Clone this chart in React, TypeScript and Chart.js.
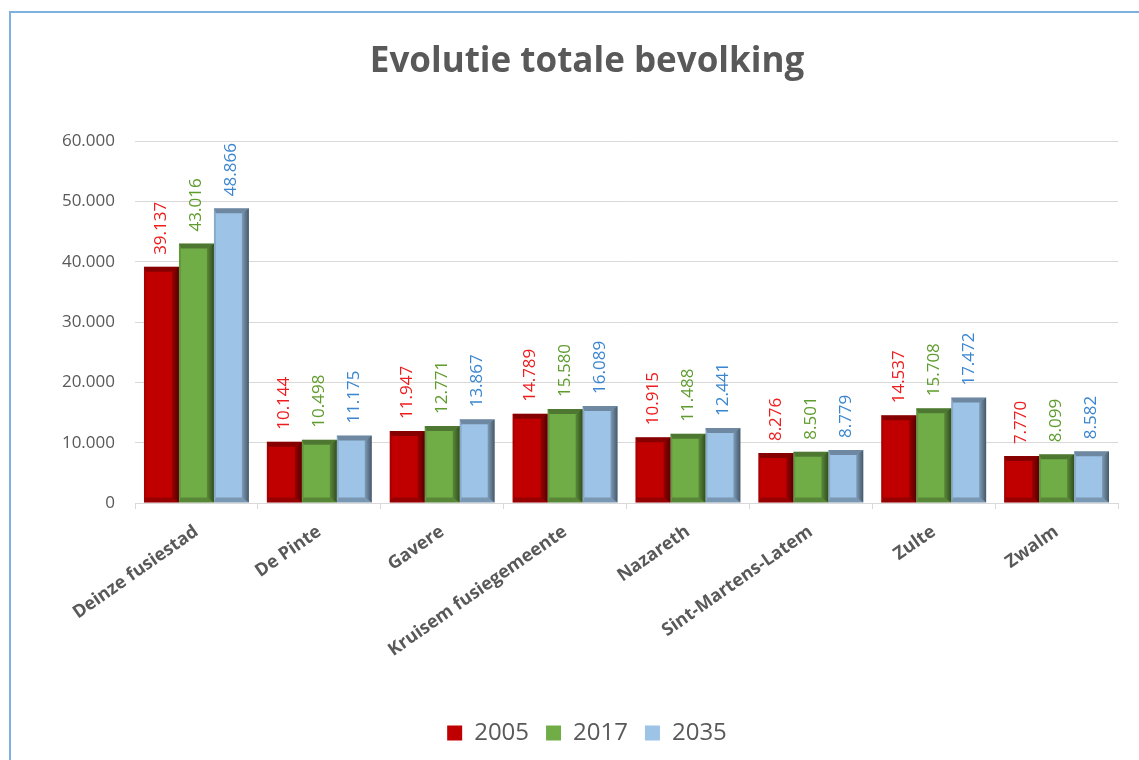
import React, { useEffect, useRef } from "react";
import { Chart, registerables } from "chart.js";

Chart.register(...registerables);

const categories = [
  "Deinze fusiestad",
  "De Pinte",
  "Gavere",
  "Kruisem fusiegemeente",
  "Nazareth",
  "Sint-Martens-Latem",
  "Zulte",
  "Zwalm",
];
const seriesNames = ["2005", "2017", "2035"];
const values2005 = [39137, 10144, 11947, 14789, 10915, 8276, 14537, 7770];
const values2017 = [43016, 10498, 12771, 15580, 11488, 8501, 15708, 8099];
const values2035 = [48866, 11175, 13867, 16089, 12441, 8779, 17472, 8582];
const yTicks = [0, 10000, 20000, 30000, 40000, 50000, 60000];

const barColors = ["#c00000", "#70ad47", "#9dc3e6"];
const labelColors = ["#ee1c1c", "#5f9c2e", "#3a86d0"];
const textGray = "#595959";
const FONT = "'Open Sans', 'DejaVu Sans', sans-serif";

const fmt = (v: number) =>
  String(v).replace(/\B(?=(\d{3})+(?!\d))/g, ".");

const bevelPlugin = {
  id: "bevelLabels",
  afterDatasetsDraw(chart: any) {
    const ctx = chart.ctx;
    chart.data.datasets.forEach((ds: any, di: number) => {
      const meta = chart.getDatasetMeta(di);
      meta.data.forEach((el: any, i: number) => {
        const { x, y, base, width } = el.getProps(["x", "y", "base", "width"], true);
        const L = x - width / 2;
        const R = x + width / 2;
        const T = y;
        const B = base;
        const bt = Math.min(5, (B - T) / 2);
        const br = 7;
        const bl = 2;
        ctx.save();
        // top
        ctx.beginPath();
        ctx.moveTo(L, T);
        ctx.lineTo(R, T);
        ctx.lineTo(R - br, T + bt);
        ctx.lineTo(L + bl, T + bt);
        ctx.closePath();
        ctx.fillStyle = "rgba(0,0,0,0.3)";
        ctx.fill();
        // right
        const g = ctx.createLinearGradient(R - br, 0, R, 0);
        g.addColorStop(0, "rgba(0,0,0,0.2)");
        g.addColorStop(1, "rgba(0,0,0,0.55)");
        ctx.beginPath();
        ctx.moveTo(R, T);
        ctx.lineTo(R, B);
        ctx.lineTo(R - br, B - bt);
        ctx.lineTo(R - br, T + bt);
        ctx.closePath();
        ctx.fillStyle = g;
        ctx.fill();
        // bottom
        ctx.beginPath();
        ctx.moveTo(L, B);
        ctx.lineTo(R, B);
        ctx.lineTo(R - br, B - bt);
        ctx.lineTo(L + bl, B - bt);
        ctx.closePath();
        ctx.fillStyle = "rgba(0,0,0,0.22)";
        ctx.fill();
        // left
        ctx.beginPath();
        ctx.moveTo(L, T);
        ctx.lineTo(L + bl, T + bt);
        ctx.lineTo(L + bl, B - bt);
        ctx.lineTo(L, B);
        ctx.closePath();
        ctx.fillStyle = "rgba(0,0,0,0.12)";
        ctx.fill();
        ctx.restore();

        // value label
        ctx.save();
        ctx.translate(x, T - 12);
        ctx.rotate(-Math.PI / 2);
        ctx.font = `17px ${FONT}`;
        ctx.fillStyle = labelColors[di];
        ctx.textAlign = "left";
        ctx.textBaseline = "middle";
        ctx.fillText(fmt(ds.data[i]), 0, 0);
        ctx.restore();
      });
    });
  },
};

export default function App() {
  const canvasRef = useRef<HTMLCanvasElement | null>(null);

  useEffect(() => {
    if (!canvasRef.current) return;
    const allSeries = [values2005, values2017, values2035];
    const chart = new Chart(canvasRef.current, {
      type: "bar",
      data: {
        labels: categories,
        datasets: seriesNames.map((name, i) => ({
          label: name,
          data: allSeries[i],
          backgroundColor: barColors[i],
          borderWidth: 0,
          barPercentage: 1,
          categoryPercentage: 0.854,
        })),
      },
      options: {
        responsive: false,
        animation: false,
        layout: { padding: { left: 56, right: 21, top: 0, bottom: 5 } },
        plugins: {
          title: {
            display: true,
            text: "Evolutie totale bevolking",
            color: textGray,
            font: { family: FONT, size: 35, weight: "bold" },
            padding: { top: 41, bottom: 58 },
          },
          legend: {
            position: "bottom",
            labels: {
              color: textGray,
              font: { family: FONT, size: 24 },
              boxWidth: 15,
              boxHeight: 15,
              padding: 17,
            },
          },
          tooltip: { enabled: false },
        },
        scales: {
          x: {
            afterFit: (s: any) => {
              s.height = 201;
            },
            grid: {
              offset: true,
              drawOnChartArea: false,
              drawTicks: true,
              tickLength: 6,
              color: "#d9d9d9",
            },
            border: { display: true, color: "#d9d9d9" },
            ticks: {
              color: textGray,
              font: { family: FONT, size: 18, weight: "bold" },
              minRotation: 35,
              maxRotation: 35,
              autoSkip: false,
              padding: 12,
            },
          },
          y: {
            min: 0,
            max: 60000,
            afterFit: (s: any) => {
              s.width = 79;
            },
            afterBuildTicks: (s: any) => {
              s.ticks = yTicks.map((v) => ({ value: v }));
            },
            grid: { color: "#d9d9d9", drawTicks: false },
            border: { display: false },
            ticks: {
              color: textGray,
              font: { family: FONT, size: 17 },
              padding: 20,
              callback: (v: any) => fmt(Number(v)),
            },
          },
        },
      },
      plugins: [bevelPlugin],
    });
    return () => chart.destroy();
  }, []);

  return (
    <div
      style={{
        position: "fixed",
        left: 0,
        top: 0,
        width: 1139,
        height: 760,
        background: "#fff",
        overflow: "hidden",
      }}
    >
      <div
        style={{
          position: "absolute",
          left: 9,
          top: 11,
          width: 1200,
          height: 800,
          borderLeft: "2px solid #7fb0e2",
          borderTop: "2px solid #7fb0e2",
        }}
      />
      <canvas
        ref={canvasRef}
        width={1139}
        height={760}
        style={{ position: "absolute", left: 0, top: 0 }}
      />
    </div>
  );
}
